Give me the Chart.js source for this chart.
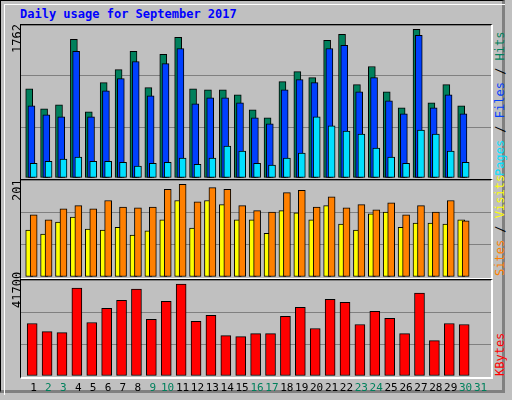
<!DOCTYPE html>
<html><head><meta charset="utf-8">
<script src="https://cdn.jsdelivr.net/npm/chart.js@4"></script>
<style>
body{margin:0;width:512px;height:400px;background:#c0c0c0;font-family:"DejaVu Sans Mono",monospace;position:relative;overflow:hidden}
#frame{position:absolute;left:0;top:0;width:505px;height:393px;border:1px solid #000;border-right:3px solid #808080;border-bottom:3px solid #808080;box-sizing:border-box}
#inner{position:absolute;left:4px;top:4px;width:500px;height:390px;border-top:1px solid #fff;border-left:1px solid #fff}
.panel{position:absolute;left:20px;width:470px;border-top:1px solid #000;border-left:1px solid #000;border-right:2px solid #fff;border-bottom:2px solid #fff}
.panel canvas{position:absolute;left:0;top:0}
.rot{position:absolute;transform-origin:left top;transform:rotate(-90deg);white-space:nowrap;font-size:12px}
#title{position:absolute;left:20px;top:7px;color:#0000ff;font-weight:bold;font-size:12px}
.day{position:absolute;top:381px;font-size:11px;width:16px;text-align:center}
</style></head><body>
<div id="frame"></div><div id="inner"></div>
<div id="title">Daily usage for September 2017</div>
<div class="panel" style="top:24px;height:154px"><canvas id="c1"></canvas></div>
<div class="panel" style="top:179px;height:98px"><canvas id="c2"></canvas></div>
<div class="panel" style="top:279px;height:97px"><canvas id="c3"></canvas></div>
<div class="rot" style="left:10px;top:53px">1762</div>
<div class="rot" style="left:10px;top:201px">201</div>
<div class="rot" style="left:10px;top:308px">41700</div>
<div class="rot" style="left:493px;top:176px"><span style="color:#00e0ff">Pages</span> / <span style="color:#0040ff">Files</span> / <span style="color:#00805c">Hits</span></div>
<div class="rot" style="left:493px;top:276px"><span style="color:#ff8000">Sites</span> / <span style="color:#ffff00">Visits</span></div>
<div class="rot" style="left:493px;top:376px;color:#ff0000">KBytes</div>
<div id="days"></div>
<script>
const days = Array.from({length: 31}, (_, i) => i + 1);
const weekend = [2, 3, 9, 10, 16, 17, 23, 24, 30, 31];
const hits = [1058,820,867,1643,784,1130,1285,1500,1070,1464,1667,1058,1046,1046,987,808,712,1142,1261,1189,1631,1702,1106,1321,1022,832,1762,891,1106,855,0];
const files = [855,748,724,1500,724,1034,1178,1380,975,1356,1535,879,951,951,891,712,641,1046,1166,1130,1535,1571,1022,1189,915,760,1690,832,987,760,0];
const pages = [175,199,223,247,199,199,187,140,175,187,235,163,235,378,319,175,152,235,295,724,617,557,521,354,247,175,569,521,319,187,0];
const visits = [135,124,148,155,148,166,152,150,152,190,201,163,194,190,155,144,141,183,188,152,174,150,157,146,161,135,155,141,166,122,0];
const sites = [102,93,119,130,104,102,108,91,100,124,166,106,166,157,124,124,95,144,139,124,155,115,102,137,141,108,117,117,115,124,0];
const kbytes = [23821,20156,19698,39855,24279,30693,34358,39397,25654,33899,41700,24737,27486,18324,17866,19240,19240,27028,31151,21531,34816,33441,23363,29318,26112,19240,37564,16034,23821,23363,0];

const dl = document.getElementById('days');
days.forEach(d => {
  const s = document.createElement('div');
  s.className = 'day';
  s.style.left = (25.5 + (d - 1) * 14.9) + 'px';
  s.style.color = weekend.includes(d) ? '#00805c' : '#000';
  s.textContent = d;
  dl.appendChild(s);
});

function ds(vals, off, color, w, order) {
  return { data: vals.map((v, i) => ({ x: days[i] + off, y: v })), backgroundColor: color,
    borderColor: '#000', borderWidth: 1, barThickness: w, grouped: false, order, borderSkipped: false };
}

function panel(id, h, max, sets) {
  const cv = document.getElementById(id);
  cv.width = 470; cv.height = h;
  cv.style.width = '470px'; cv.style.height = h + 'px';
  new Chart(cv, {
    type: 'bar',
    data: { datasets: sets },
    options: {
      responsive: false, animation: false, devicePixelRatio: 1,
      layout: { padding: 0 },
      plugins: { legend: { display: false }, tooltip: { enabled: false } },
      scales: {
        x: { type: 'linear', min: 0.15, max: 31.7, offset: false, display: false },
        y: { min: 0, max, display: true, border: { display: false },
             ticks: { display: false, stepSize: max / 3 }, grid: { color: '#808080', drawTicks: false } }
      }
    }
  });
}

panel('c1', 153, 1813, [
  ds(hits, -0.3, '#00805c', 7, 3),
  ds(files, -0.15, '#0040ff', 7, 2),
  ds(pages, 0, '#00e0ff', 7, 1)
]);
panel('c2', 97, 210.5, [
  ds(sites, -0.3, '#ffff00', 7, 2),
  ds(visits, 0, '#ff8000', 7, 1)
]);
panel('c3', 96, 43530, [
  ds(kbytes, -0.1, '#ff0000', 10, 1)
]);
</script>
</body></html>
